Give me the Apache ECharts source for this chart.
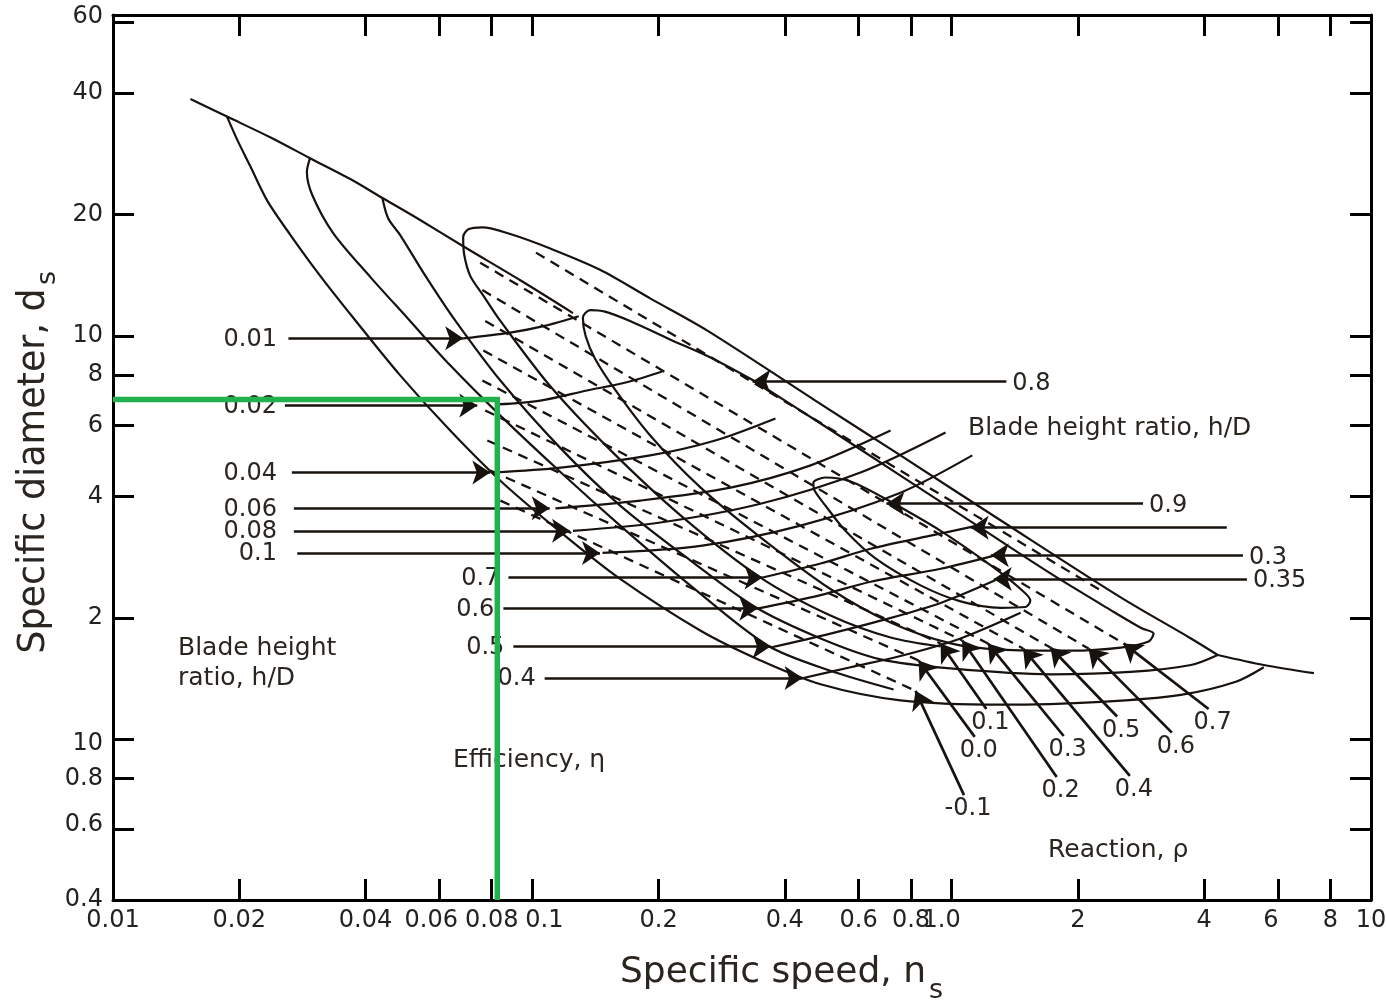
<!DOCTYPE html>
<html>
<head>
<meta charset="utf-8">
<title>Specific speed – specific diameter diagram</title>
<script src="https://cdn.jsdelivr.net/npm/echarts@6/dist/echarts.min.js"></script>
<style>
html, body { margin: 0; padding: 0; background: #ffffff; }
#chart { width: 1386px; height: 1004px; }
</style>
</head>
<body>
<div id="chart"></div>
<script>
// ---------- axis ticks ----------
const nsTicks    = [0.01, 0.02, 0.04, 0.06, 0.08, 0.1, 0.2, 0.4, 0.6, 0.8, 1.0, 2, 4, 6, 8, 10];
const nsTickText = ['0.01','0.02','0.04','0.06','0.08','0.1','0.2','0.4','0.6','0.8','1.0','2','4','6','8','10'];
const dsTicks    = [0.4, 0.6, 0.8, 1, 2, 4, 6, 8, 10, 20, 40, 60];
const dsTickText = ['0.4','0.6','0.8','10','2','4','6','8','10','20','40','60'];

// ---------- curves, points are [ns, ds] ----------
const ridgeLine = [[0.0153,38.7],[0.0187,35.0],[0.0237,31.1],[0.0295,27.6],[0.0368,24.5],[0.0439,22.0],[0.0540,19.4],[0.0684,16.7],[0.0936,13.75],[0.125,11.4]];
const ridgeTail = [[4.31,1.62],[5.55,1.53],[7.31,1.46]];

const effContour1 = [[0.0187,35.0],[0.0198,30.6],[0.0212,26.5],[0.0233,21.7],[0.0265,17.8],[0.0312,14.1],[0.0374,11.1],[0.0484,7.99],[0.0637,5.83],[0.0839,4.38],[0.117,3.26],[0.162,2.50],[0.252,1.86],[0.350,1.57],[0.487,1.37],[0.755,1.25],[1.31,1.22],[2.27,1.24],[3.52,1.29],[4.76,1.39],[5.55,1.51]];
const effContour2 = [[0.0295,27.6],[0.0290,25.5],[0.0299,22.3],[0.0335,18.0],[0.0411,14.0],[0.0503,11.1],[0.0637,8.46],[0.0839,6.35],[0.117,4.59],[0.162,3.39],[0.238,2.41],[0.364,1.71],[0.514,1.48],[0.727,1.33]];
const effContour3 = [[0.0439,22.0],[0.0453,19.6],[0.0484,17.8],[0.0556,14.1],[0.0648,11.1],[0.0839,7.76],[0.117,5.26],[0.162,3.80],[0.238,2.78],[0.340,2.13],[0.487,1.78],[0.677,1.58],[0.994,1.50],[1.72,1.45],[2.67,1.47],[3.72,1.53],[4.31,1.62]];
const effLoopOuter = [[4.31,1.62],[3.72,1.78],[2.53,2.25],[1.31,3.49],[0.755,5.06],[0.473,6.92],[0.262,10.3],[0.191,12.4],[0.145,14.6],[0.110,16.5],[0.0886,17.9],[0.0760,18.6],[0.0704,18.4],[0.0684,17.6],[0.0688,15.9],[0.0711,14.1],[0.0764,12.6],[0.0839,10.9],[0.110,7.54],[0.154,5.20],[0.226,3.59],[0.350,2.52],[0.514,2.03],[0.715,1.79],[0.941,1.70]];
const effLoopMid = [[0.337,7.76],[0.487,6.07],[0.755,4.51],[1.17,3.35],[1.72,2.58],[2.40,2.09],[2.83,1.89],[3.03,1.83],[2.95,1.75],[2.53,1.69],[1.92,1.66],[1.31,1.67],[0.994,1.73],[0.715,1.95],[0.514,2.36],[0.350,3.17],[0.252,4.21],[0.191,5.67],[0.158,7.33],[0.141,8.80],[0.134,10.0],[0.132,11.1],[0.1375,11.6],[0.149,11.5],[0.171,10.9],[0.213,9.81],[0.266,8.85],[0.337,7.76]];
const effLoopInner = [[0.707,3.91],[0.941,3.29],[1.24,2.70],[1.46,2.36],[1.54,2.21],[1.50,2.13],[1.31,2.12],[1.05,2.20],[0.843,2.41],[0.658,2.81],[0.558,3.29],[0.500,3.80],[0.471,4.14],[0.468,4.33],[0.500,4.46],[0.574,4.36],[0.707,3.91]];

// blade height ratio lines
const hd001 = [[0.0684,9.87],[0.0886,10.2],[0.107,10.6],[0.129,11.2]];
const hd002 = [[0.0825,6.77],[0.1045,6.92],[0.135,7.33],[0.167,7.67],[0.204,8.17]];
const hd004 = [[0.0807,4.59],[0.117,4.72],[0.191,5.06],[0.273,5.51],[0.380,6.25]];
const hd006 = [[0.1135,3.74],[0.181,3.91],[0.297,4.21],[0.461,4.78],[0.715,5.83]];
const hd008 = [[0.125,3.29],[0.202,3.45],[0.350,3.84],[0.606,4.59],[0.967,5.77]];
const hd010 = [[0.147,2.90],[0.252,3.02],[0.436,3.39],[0.755,4.09],[1.12,5.06]];
const hdLow1 = [[0.354,2.52],[0.487,2.73],[0.641,2.97],[0.891,3.20],[1.15,3.39]];
const hdLow2 = [[0.344,2.11],[0.487,2.28],[0.641,2.46],[0.941,2.65],[1.27,2.86]];
const hdLow3 = [[0.370,1.69],[0.514,1.83],[0.677,1.97],[0.941,2.18],[1.27,2.48]];
const hdLow4 = [[0.443,1.42],[0.574,1.51],[0.755,1.61],[1.05,1.78],[1.46,2.06]];

// reaction lines: dashed inside the field, solid leader down to the value
const reactionText  = ['-0.1','0.0','0.1','0.2','0.3','0.4','0.5','0.6','0.7'];
const reactionUpper = [[0.0839,3.91],[0.0794,4.64],[0.0781,5.51],[0.0772,6.54],[0.0760,7.76],[0.0764,9.21],[0.0772,10.9],[0.0760,13.0],[0.0751,15.2]];
const reactionTip   = [[0.820,1.32],[0.834,1.57],[0.941,1.73],[1.06,1.76],[1.22,1.73],[1.48,1.68],[1.72,1.69],[2.12,1.68],[2.57,1.73]];
const reactionFoot  = [[1.07,0.728],[1.135,1.015],[1.21,1.19],[1.78,0.807],[1.85,1.02],[2.66,0.812],[2.48,1.14],[3.35,1.04],[4.10,1.19]];
const extraDash     = [[0.102,16.1],[2.27,2.34]];

// leader arrows
const hdArrowText = ['0.01','0.02','0.04','0.06','0.08','0.1'];
const hdArrowFrom = [[0.0262,9.87],[0.0257,6.73],[0.0267,4.59],[0.0270,3.74],[0.0270,3.29],[0.0275,2.90]];
const hdArrowTo   = [[0.0684,9.87],[0.0739,6.73],[0.0794,4.59],[0.110,3.74],[0.123,3.29],[0.145,2.90]];
const effArrowText = ['0.7','0.6','0.5','0.4'];
const effArrowFrom = [[0.0877,2.52],[0.0853,2.11],[0.0901,1.70],[0.107,1.42]];
const effArrowTo   = [[0.354,2.52],[0.344,2.11],[0.370,1.70],[0.441,1.42]];
const rightArrowText = ['0.8','0.9','','0.3','0.35'];
const rightArrowFrom = [[1.35,7.72],[2.86,3.84],[4.53,3.35],[4.95,2.86],[5.06,2.50]];
const rightArrowTo   = [[0.335,7.72],[0.699,3.84],[1.11,3.35],[1.24,2.86],[1.26,2.50]];

// selected design point
const designPoint = [0.0825, 6.96];

// ---------- drawing ----------
const lg = Math.log10;
const toLog = pts => pts.map(p => [lg(p[0]), lg(p[1])]);
const INK = '#17120d';
const TXT = '#2b2520';
const FONT = 'DejaVu Sans';
const hdLabelNs = 0.0246;   // right edge of the h/D value column

const series = [];
function addCurve(pts, extra) {
  series.push(Object.assign({
    type: 'line', data: toLog(pts), showSymbol: false, symbol: 'none', smooth: 0.3,
    lineStyle: { color: INK, width: 2.2 }, silent: true, animation: false, z: 3
  }, extra || {}));
}
[ridgeLine, ridgeTail, effContour1, effContour2, effContour3, effLoopOuter, effLoopMid, effLoopInner,
 hd001, hd002, hd004, hd006, hd008, hd010, hdLow1, hdLow2, hdLow3, hdLow4].forEach(c => addCurve(c));

const dashStyle = { smooth: false, lineStyle: { color: INK, width: 2.3, type: [10, 7] } };
reactionUpper.forEach((p, i) => addCurve([p, reactionTip[i]], dashStyle));
addCurve(extraDash, dashStyle);

const arrowData = [];
const addArrow = (a, b) => arrowData.push({ coords: [[lg(a[0]), lg(a[1])], [lg(b[0]), lg(b[1])]] });
hdArrowFrom.forEach((p, i) => addArrow(p, hdArrowTo[i]));
effArrowFrom.forEach((p, i) => addArrow(p, effArrowTo[i]));
rightArrowFrom.forEach((p, i) => addArrow(p, rightArrowTo[i]));
reactionFoot.forEach((p, i) => addArrow(p, reactionTip[i]));
series.push({
  type: 'lines', coordinateSystem: 'cartesian2d', data: arrowData,
  symbol: ['none', 'arrow'], symbolSize: [11, 18],
  lineStyle: { color: INK, width: 2.7, opacity: 1, curveness: 0 },
  itemStyle: { color: INK },
  silent: true, animation: false, z: 4
});

series.push({
  type: 'line', silent: true, animation: false, showSymbol: false, symbol: 'none', clip: false, z: 10,
  data: toLog([[0.01, designPoint[1]], designPoint, [designPoint[0], 0.4]]),
  lineStyle: { color: '#22b14c', width: 5.5, join: 'miter' }
});

// tick labels; a few are nudged sideways the way they are typeset on the printed scale
const nsNudge = { '0.06': -8, '0.1': 12, '1.0': -10, '6': -7 };
const dsNudge = { '60': -5, '10@1': 4, '0.6': -4 };
function nudgeRich(size, axis) {
  const rich = {};
  [4, 5, 7, 8, 10, 12].forEach(n => {
    const base = { fontFamily: FONT, fontSize: size, color: '#222' };
    rich['m' + n] = Object.assign({}, base, axis === 'x' ? { padding: [0, 2 * n, 0, 0] } : { padding: [0, 0, 2 * n, 0] });
    rich['p' + n] = Object.assign({}, base, axis === 'x' ? { padding: [0, 0, 0, 2 * n] } : { padding: [2 * n, 0, 0, 0] });
  });
  return rich;
}
function tickFormatter(ticks, texts, nudge, isY) {
  return v => {
    let best = 0, bd = Infinity;
    ticks.forEach((t, i) => { const d = Math.abs(lg(t) - v); if (d < bd) { bd = d; best = i; } });
    const text = texts[best];
    const key = (isY && ticks[best] === 1) ? '10@1' : text;
    const s = nudge[key];
    if (!s) return text;
    return '{' + (s < 0 ? 'm' : 'p') + Math.abs(s) + '|' + text + '}';
  };
}
const tickStyle = { show: true, inside: true, length: 21, lineStyle: { color: '#000', width: 3 } };
const lineStyleAxis = { show: true, onZero: false, lineStyle: { color: '#000', width: 3 } };
const xVals = nsTicks.map(lg), yVals = dsTicks.map(lg);
const xBase = { type: 'value', min: lg(0.01), max: lg(10), splitLine: { show: false }, axisLine: lineStyleAxis };
const yBase = { type: 'value', min: lg(0.4), max: lg(62.5), splitLine: { show: false }, axisLine: lineStyleAxis };

const option = {
  animation: false,
  backgroundColor: '#ffffff',
  textStyle: { fontFamily: FONT },
  grid: { left: 113, right: 15, top: 15, bottom: 104, containLabel: false, outerBoundsMode: 'none' },
  xAxis: [
    Object.assign({}, xBase, { position: 'bottom',
      axisTick: Object.assign({ customValues: xVals }, tickStyle),
      axisLabel: { show: true, customValues: xVals, formatter: tickFormatter(nsTicks, nsTickText, nsNudge, false),
                   rich: nudgeRich(24, 'x'), fontFamily: FONT, fontSize: 24, color: '#222', margin: 9 } }),
    Object.assign({}, xBase, { position: 'top',
      axisTick: Object.assign({ customValues: xVals }, tickStyle), axisLabel: { show: false } })
  ],
  yAxis: [
    Object.assign({}, yBase, { position: 'left',
      axisTick: Object.assign({ customValues: yVals }, tickStyle),
      axisLabel: { show: true, customValues: yVals, formatter: tickFormatter(dsTicks, dsTickText, dsNudge, true),
                   rich: nudgeRich(24, 'y'), fontFamily: FONT, fontSize: 24, color: '#222', margin: 10 } }),
    Object.assign({}, yBase, { position: 'right',
      axisTick: Object.assign({ customValues: yVals }, tickStyle), axisLabel: { show: false } })
  ],
  series: series
};

const chart = echarts.init(document.getElementById('chart'), null, { renderer: 'canvas' });
chart.setOption(option);

// ---------- annotation text ----------
const toPx = p => chart.convertToPixel({ gridIndex: 0 }, [lg(p[0]), lg(p[1])]);
function txt(x, y, text, size, align, extra, lineHeight) {
  const style = { text: text, fill: TXT, fontFamily: FONT, fontSize: size,
                  align: align, verticalAlign: 'middle', textAlign: align, textVerticalAlign: 'middle' };
  if (lineHeight) style.lineHeight = lineHeight;
  return Object.assign({ type: 'text', x: x, y: y, silent: true, z: 1, style: style }, extra || {});
}
const g = [];
hdArrowFrom.forEach((p, i) => {
  const a = toPx([hdLabelNs, p[1]]);
  g.push(txt(a[0], a[1] + 1, hdArrowText[i], 24, 'right'));
});
effArrowFrom.forEach((p, i) => {
  const a = toPx(p);
  g.push(txt(a[0] - 9, a[1] + 1, effArrowText[i], 24, 'right'));
});
rightArrowFrom.forEach((p, i) => {
  if (!rightArrowText[i]) return;
  const a = toPx(p);
  g.push(txt(a[0] + 6, a[1] + 2, rightArrowText[i], 24, 'left'));
});
reactionFoot.forEach((p, i) => {
  const a = toPx(p);
  g.push(txt(a[0] + 4, a[1] + 14, reactionText[i], 24, 'center'));
});
g.push(txt(968, 428, 'Blade height ratio, h/D', 25, 'left'));
g.push(txt(178, 663, 'Blade height\nratio, h/D', 25, 'left', null, 30));
g.push(txt(453, 760, 'Efficiency, \u03b7', 25, 'left'));
g.push(txt(1048, 850, 'Reaction, \u03c1', 25, 'left'));
// axis titles with subscripts
g.push(txt(620, 973, 'Specific speed, n', 36, 'left'));
g.push(txt(929, 991, 's', 27, 'left'));
g.push(txt(35, 471, 'Specific diameter, d', 36.5, 'center', { rotation: Math.PI / 2 }));
g.push(txt(48, 278, 's', 27, 'center', { rotation: Math.PI / 2 }));

chart.setOption({ graphic: g });
</script>
</body>
</html>
